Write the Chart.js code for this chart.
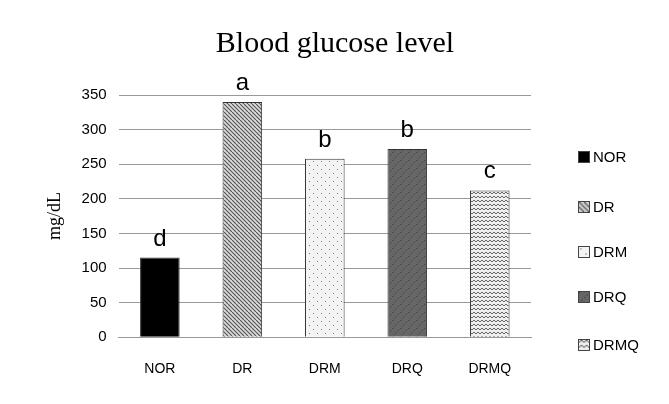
<!DOCTYPE html>
<html><head>
<script src="https://cdn.jsdelivr.net/npm/chart.js@4"></script>
<style>body{margin:0;background:#fff}#w{position:relative;width:669px;height:404px}
#lg{position:absolute;left:578px;top:0;font-family:Arial,sans-serif;font-size:15px;color:#000}
.it{position:absolute;left:0;display:flex;align-items:center;white-space:nowrap}
.it canvas{margin-right:3px;border:1px solid #444}
</style></head><body><div id="w"><canvas id="c" width="669" height="404"></canvas><div id="lg"></div></div>
<script>
const categories=["NOR","DR","DRM","DRQ","DRMQ"];
const values=[115,340,258,272,212];
const letters=["d","a","b","b","c"];
const yTicks=[0,50,100,150,200,250,300,350];
function pat(kind){const c=document.createElement('canvas');c.width=8;c.height=8;const g=c.getContext('2d');
 if(kind==0){g.fillStyle='#000';g.fillRect(0,0,8,8);}
 else if(kind==1){g.fillStyle='#ddd';g.fillRect(0,0,8,8);g.strokeStyle='#555';g.lineWidth=1.2;g.beginPath();for(let i=-8;i<16;i+=4){g.moveTo(i,0);g.lineTo(i+8,8);}g.stroke();}
 else if(kind==2){g.fillStyle='#f4f4f4';g.fillRect(0,0,8,8);g.fillStyle='#777';g.fillRect(1,1,1,1);g.fillRect(5,5,1,1);}
 else if(kind==3){g.fillStyle='#666';g.fillRect(0,0,8,8);g.fillStyle='#444';g.fillRect(0,0,1,1);g.fillRect(4,4,1,1);g.fillRect(2,6,1,1);g.fillRect(6,2,1,1);}
 else {g.fillStyle='#eee';g.fillRect(0,0,8,8);g.strokeStyle='#666';g.beginPath();g.moveTo(0,2);g.lineTo(2,0);g.lineTo(4,2);g.lineTo(6,0);g.lineTo(8,2);g.moveTo(0,6);g.lineTo(2,4);g.lineTo(4,6);g.lineTo(6,4);g.lineTo(8,6);g.stroke();}
 return c;}
const ctx0=document.getElementById('c').getContext('2d');
const pats=[0,1,2,3,4].map(k=>ctx0.createPattern(pat(k),'repeat'));
const lg=document.getElementById('lg');
const ly=[157,207,252,297,345];
categories.forEach((n,i)=>{const d=document.createElement('div');d.className='it';d.style.top=(ly[i]-9)+'px';
 const cv=pat(i);cv.style.width='10px';cv.style.height='10px';d.appendChild(cv);d.appendChild(document.createTextNode(n));lg.appendChild(d);});
const letterPlugin={id:'lt',afterDatasetsDraw(ch){const m=ch.getDatasetMeta(0);const g=ch.ctx;g.save();g.font='24px Arial';g.fillStyle='#000';g.textAlign='center';
 m.data.forEach((b,i)=>{g.fillText(letters[i],b.x,b.y-12);});
 g.font='30px "Liberation Serif"';g.fillText('Blood glucose level',335,52);g.restore();}};
new Chart(document.getElementById('c'),{type:'bar',
 data:{labels:categories,datasets:[{data:values,backgroundColor:pats,borderColor:'#333',borderWidth:1,categoryPercentage:1,barPercentage:0.48}]},
 options:{responsive:false,animation:false,events:[],
  layout:{padding:{left:40,right:138,top:95,bottom:10}},
  plugins:{legend:{display:false},tooltip:{enabled:false},title:{display:false}},
  scales:{x:{grid:{display:false},border:{color:'#999'},ticks:{color:'#000',font:{family:'Arial',size:14},padding:16}},
   y:{min:0,max:350,afterBuildTicks:a=>{a.ticks=yTicks.map(v=>({value:v}));},
    grid:{color:'#999',drawTicks:false},border:{display:false},
    ticks:{color:'#000',font:{family:'Arial',size:15},padding:12},
    title:{display:true,text:'mg/dL',font:{family:'Liberation Serif',size:18},color:'#000'}}}},
 plugins:[letterPlugin]});
</script></body></html>
